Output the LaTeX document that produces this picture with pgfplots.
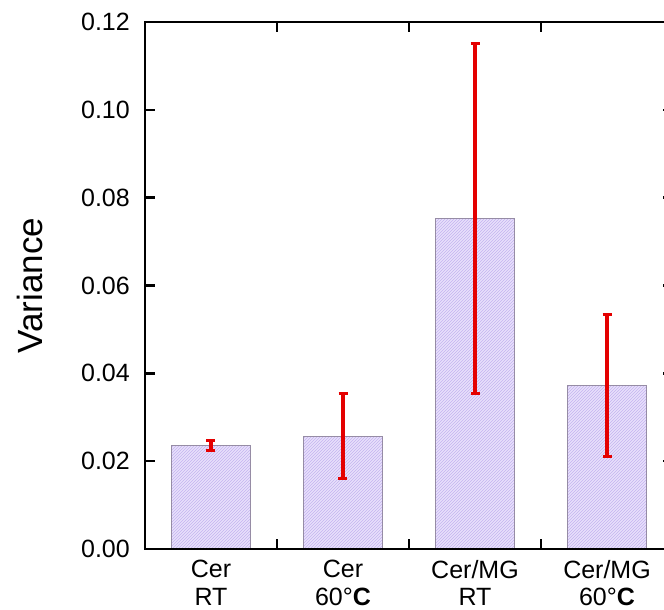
\documentclass[border=0pt]{standalone}
\usepackage{pgfplots}
\pgfplotsset{compat=1.18}
\usepackage{fontspec}
\setmainfont{Liberation Sans}
\usetikzlibrary{patterns}
\definecolor{barfill}{RGB}{232,224,251}
\definecolor{barhatch}{RGB}{196,180,240}
\definecolor{baredge}{RGB}{150,140,165}
\definecolor{errred}{RGB}{228,0,0}
\pgfplotsset{
  commonaxis/.style={
    width=528pt, height=527pt, scale only axis,
    xmin=-0.5, xmax=3.5, ymin=0, ymax=0.12,
    axis line style={line width=2.8pt},
    tick style={line width=2.4pt, black},
    major tick length=10pt,
    tick align=inside, tick pos=both,
  }
}
\begin{document}
\begin{tikzpicture}
\begin{axis}[
  commonaxis,
  xtick={0,1,2,3},
  xticklabels={Cer\\RT, Cer\\60°\textbf{C}, Cer/MG\\RT, Cer/MG\\60°\textbf{C}},
  xtick style={draw=none},
  xticklabel style={align=center, inner sep=0pt, yshift=-11pt, font=\fontsize{25}{27.6}\selectfont},
  ytick={0,0.02,0.04,0.06,0.08,0.10,0.12},
  scaled y ticks=false,
  yticklabel style={inner sep=0pt, xshift=-15pt, font=\fontsize{25}{28}\selectfont,
    /pgf/number format/fixed, /pgf/number format/fixed zerofill,
    /pgf/number format/precision=2, /pgf/number format/assume math mode=true},
  ylabel={Variance},
  every axis y label/.style={at={(axis description cs:-0.2424,0.5)}, rotate=90, anchor=north, inner sep=0pt, font=\fontsize{35}{40}\selectfont},
]
\coordinate (O) at (rel axis cs:0,0);
\addplot[ybar, bar width=0.604, draw=baredge, line width=0.8pt, fill=barfill,
  postaction={pattern=north east lines, pattern color=barhatch},
  error bars/.cd, y dir=both, y explicit,
  error bar style={errred, line width=3.2pt},
  error mark options={rotate=90, mark size=4.5pt, line width=3pt, errred}]
  coordinates {
  (0,0.0236) +- (0,0.0012)
  (1,0.0257) +- (0,0.0097)
  (2,0.0752) +- (0,0.0398)
  (3,0.0372) +- (0,0.0161)
  };
\end{axis}
\begin{axis}[
  commonaxis,
  xtick={0.5,1.5,2.5}, xticklabels={},
  ytick=\empty,
]
\end{axis}
\pgfresetboundingbox
\path ([shift={(-145pt,-61pt)}]O) rectangle ([shift={(519pt,549pt)}]O);
\end{tikzpicture}
\end{document}
